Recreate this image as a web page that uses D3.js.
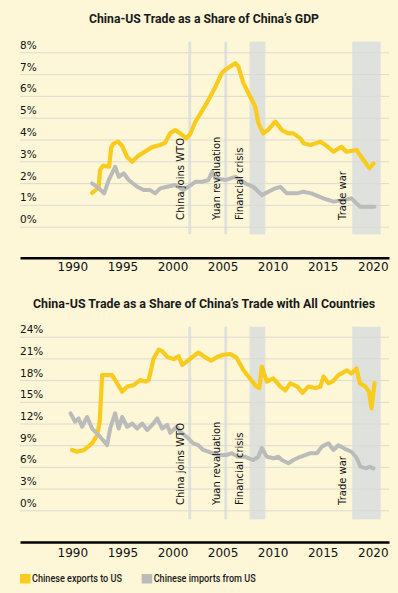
<!DOCTYPE html>
<html>
<head>
<meta charset="utf-8">
<script src="https://cdn.jsdelivr.net/npm/d3@7"></script>
<style>
  html, body { margin: 0; padding: 0; background: #fdf7d8; }
  svg { display: block; }
</style>
</head>
<body>
<svg id="chart" width="398" height="593"></svg>
<script>
// ---------- DATA ----------
const gdpExportYears = [1992.2,1992.6,1992.85,1993.0,1993.3,1993.9,1994.1,1994.3,1994.8,1995.2,1995.7,1996.2,1996.8,1997.5,1998.2,1999.0,1999.5,2000.0,2000.5,2001.0,2001.6,2002.0,2002.5,2003.5,2004.5,2005.15,2005.5,2006.0,2006.5,2006.8,2007.3,2008.0,2008.5,2008.8,2009.3,2009.8,2010.5,2011.15,2011.8,2012.3,2013.0,2013.3,2014.0,2015.0,2015.5,2016.3,2017.1,2017.6,2018.6,2019.3,2019.9,2020.3];
const gdpExportValues = [1.55,1.7,1.8,2.6,2.8,2.75,3.6,3.8,3.9,3.7,3.2,2.98,3.25,3.45,3.65,3.75,3.85,4.3,4.43,4.28,4.05,4.25,4.8,5.55,6.4,7.05,7.2,7.35,7.5,7.35,6.6,5.95,5.5,4.75,4.28,4.45,4.82,4.43,4.28,4.28,4.05,3.83,3.75,3.9,3.75,3.44,3.67,3.44,3.52,3.06,2.68,2.9];

const gdpImportYears = [1992.2,1992.7,1993.4,1993.86,1994.5,1994.86,1995.35,1995.85,1996.7,1997.35,1998.0,1998.5,1999.0,1999.7,2000.5,2001.3,2001.8,2002.5,2003.2,2003.8,2004.2,2004.5,2005.5,2006.5,2007.5,2008.3,2009.15,2009.8,2010.5,2011.0,2011.65,2012.65,2013.3,2014.1,2015.3,2016.3,2017.3,2018.1,2018.95,2019.9,2020.4];
const gdpImportValues = [1.99,1.83,1.53,2.14,2.75,2.29,2.45,2.14,1.83,1.68,1.68,1.53,1.76,1.83,1.91,1.68,1.83,2.06,2.06,2.14,2.52,2.22,2.14,2.29,1.99,1.83,1.45,1.6,1.76,1.83,1.53,1.53,1.6,1.53,1.3,1.15,1.22,1.3,0.92,0.92,0.92];

const tradeExportYears = [1990.2,1990.7,1991.4,1992.2,1992.7,1992.96,1993.2,1993.5,1994.2,1994.7,1995.2,1995.7,1996.35,1997.0,1997.5,1997.85,1998.35,1998.85,1999.2,1999.7,2000.35,2000.85,2001.2,2001.8,2002.2,2002.8,2003.5,2004.1,2004.65,2005.3,2006.0,2006.6,2007.3,2007.95,2008.6,2008.9,2009.15,2009.65,2010.3,2011.0,2011.5,2012.0,2012.7,2013.2,2013.8,2014.5,2015.0,2015.3,2015.8,2016.3,2016.8,2017.65,2018.1,2018.6,2018.95,2019.5,2019.85,2020.1,2020.4];
const tradeExportValues = [8.34,8.1,8.34,9.26,10.4,12.25,18.7,18.7,18.7,17.56,16.4,17.1,17.3,18.0,17.8,18.0,21.0,22.2,22.0,21.2,20.9,21.3,20.1,20.7,21.2,21.8,21.15,20.7,21.15,21.5,21.6,21.15,19.4,18.25,17.1,16.9,19.85,17.8,18.25,17.1,16.6,17.55,17.1,16.25,17.1,16.9,17.1,18.5,17.55,17.9,18.7,19.35,18.9,19.6,17.55,17.1,16.4,14.1,17.55];

const tradeImportYears = [1990.05,1990.5,1990.85,1991.2,1991.7,1992.2,1992.85,1993.4,1993.7,1994.0,1994.5,1994.85,1995.2,1995.7,1996.2,1996.7,1997.2,1997.7,1998.2,1998.7,1999.2,1999.7,2000.0,2000.65,2001.0,2001.8,2002.3,2002.8,2003.3,2003.8,2004.2,2004.8,2005.65,2006.15,2006.8,2007.5,2008.3,2008.8,2009.15,2009.65,2010.3,2010.8,2011.15,2011.8,2012.3,2013.0,2014.0,2014.65,2015.15,2015.8,2016.3,2016.8,2017.45,2018.1,2018.6,2019.0,2019.6,2019.9,2020.3];
const tradeImportValues = [13.4,12.25,12.7,11.55,12.9,11.3,10.4,9.5,9.0,11.3,13.4,11.3,12.9,11.55,12.0,11.3,12.0,11.1,11.8,12.7,11.3,11.8,10.7,11.55,10.9,9.95,9.26,9.0,8.34,8.1,7.9,7.65,7.65,7.9,7.4,7.4,6.95,7.4,8.6,7.4,7.2,7.4,6.95,6.5,6.95,7.4,7.9,7.9,8.8,9.26,8.34,9.0,8.5,8.1,7.3,6.03,5.8,6.03,5.8];

const yearTicks = [1990, 1995, 2000, 2005, 2010, 2015, 2020];
const gdpTicks = [0, 1, 2, 3, 4, 5, 6, 7, 8];
const tradeTicks = [0, 3, 6, 9, 12, 15, 18, 21, 24];

const eventLines = [ {year: 2001.95, label: "China joins WTO"}, {year: 2005.55, label: "Yuan revaluation"} ];
const eventShades = [ {start: 2007.92, end: 2009.5, label: "Financial crisis"}, {start: 2018.18, end: 2021.02, label: "Trade war"} ];

const chartTitles = ["China-US Trade as a Share of China\u2019s GDP", "China-US Trade as a Share of China\u2019s Trade with All Countries"];
const seriesNames = ["Chinese exports to US", "Chinese imports from US"];

// ---------- STYLE ----------
const YELLOW = "#f9cb1c", GREY = "#bbbcba", SHADE = "#dfe1dd", GRID = "#dbdad0";
const svg = d3.select("#chart");

const x = d3.scaleLinear().domain([1985, 2021.85]).range([20, 389]);

function panel(cfg) {
  const g = svg.append("g");
  const y = d3.scaleLinear().domain([0, cfg.max]).range([cfg.y0, cfg.yTop]);

  // title
  g.append("text").attr("x", 204).attr("y", cfg.titleY)
    .attr("text-anchor", "middle").attr("dominant-baseline", "central")
    .attr("font-family", "Roboto, 'Noto Sans', sans-serif").attr("font-weight", 700)
    .attr("font-size", 12.5).attr("fill", "#1a1a1a")
    .attr("textLength", cfg.titleLen).attr("lengthAdjust", "spacingAndGlyphs")
    .text(cfg.title);

  // shaded periods
  g.selectAll("rect.shade").data(eventShades).join("rect").attr("class", "shade")
    .attr("x", d => x(d.start)).attr("width", d => x(d.end) - x(d.start))
    .attr("y", cfg.shadeTop).attr("height", cfg.shadeBot - cfg.shadeTop)
    .attr("fill", SHADE);
  // event lines
  g.selectAll("rect.ev").data(eventLines).join("rect").attr("class", "ev")
    .attr("x", d => x(d.year) - 1.4).attr("width", 2.8)
    .attr("y", cfg.shadeTop).attr("height", cfg.shadeBot - cfg.shadeTop)
    .attr("fill", SHADE);

  // grid + y labels
  const yAxis = d3.axisRight(y).tickValues(cfg.ticks).tickSize(369).tickFormat(d => d + "%");
  const ya = g.append("g").attr("transform", "translate(20,0)").call(yAxis);
  ya.select(".domain").remove();
  ya.selectAll(".tick line").attr("stroke", GRID).attr("stroke-width", 1);
  ya.selectAll(".tick text").attr("x", 0).attr("dy", null).attr("y", -8)
    .attr("dominant-baseline", "central").attr("text-anchor", "start")
    .attr("font-family", "'DejaVu Sans', sans-serif").attr("font-size", 10.5)
    .attr("fill", "#111");

  // lines
  const line = d3.line().x(d => x(d[0])).y(d => y(d[1]));
  g.append("path").datum(d3.zip(cfg.exYears, cfg.exValues))
    .attr("d", line).attr("fill", "none").attr("stroke", YELLOW)
    .attr("stroke-width", 4.2).attr("stroke-linejoin", "round").attr("stroke-linecap", "round");
  g.append("path").datum(d3.zip(cfg.imYears, cfg.imValues))
    .attr("d", line).attr("fill", "none").attr("stroke", GREY)
    .attr("stroke-width", 4).attr("stroke-linejoin", "round").attr("stroke-linecap", "round");

  // annotations (on top of lines)
  const ann = [
    ...eventLines.map(d => ({pos: x(d.year), label: d.label})),
    ...eventShades.map(d => ({pos: x(d.start) - 0.5, label: d.label}))
  ];
  g.selectAll("text.ann").data(ann).join("text").attr("class", "ann")
    .attr("transform", d => `translate(${d.pos - 6},${cfg.annBottom}) rotate(-90)`)
    .attr("font-family", "'DejaVu Sans', sans-serif").attr("font-size", 10)
    .attr("fill", "#111").attr("text-anchor", "start")
    .text(d => d.label);

  // x axis
  const xAxis = d3.axisBottom(x).tickValues(yearTicks).tickSize(0).tickSizeOuter(0).tickFormat(d3.format("d"));
  const xa = g.append("g").attr("transform", `translate(0,${cfg.axisY})`).call(xAxis);
  xa.select(".domain").attr("stroke", "#000").attr("stroke-width", 2.4);
  xa.selectAll(".tick text").attr("dx", 2.3).attr("y", 0).attr("dy", null)
    .attr("transform", `translate(0,${cfg.labelY - cfg.axisY})`)
    .attr("dominant-baseline", "central")
    .attr("font-family", "'DejaVu Sans', sans-serif").attr("font-size", 12)
    .attr("fill", "#111");
}

panel({
  title: chartTitles[0], titleY: 18, titleLen: 230, max: 8, ticks: gdpTicks,
  y0: 226.7, yTop: 52.3, shadeTop: 41.7, shadeBot: 234.3, annBottom: 220,
  axisY: 257.7, labelY: 267.3,
  exYears: gdpExportYears, exValues: gdpExportValues,
  imYears: gdpImportYears, imValues: gdpImportValues
});
panel({
  title: chartTitles[1], titleY: 303.3, titleLen: 342, max: 24, ticks: tradeTicks,
  y0: 510.3, yTop: 336.7, shadeTop: 326.7, shadeBot: 519.3, annBottom: 505,
  axisY: 542, labelY: 553.3,
  exYears: tradeExportYears, exValues: tradeExportValues,
  imYears: tradeImportYears, imValues: tradeImportValues
});

// legend
const legend = svg.append("g");
const legendItems = [
  {name: seriesNames[0], color: YELLOW, x: 20, len: 90},
  {name: seriesNames[1], color: GREY, x: 141.7, len: 102}
];
legendItems.forEach(it => {
  legend.append("rect").attr("x", it.x).attr("y", 574).attr("width", 10.5).attr("height", 9.5).attr("fill", it.color);
  legend.append("text").attr("x", it.x + 12).attr("y", 578.8)
    .attr("dominant-baseline", "central")
    .attr("font-family", "Roboto, 'Noto Sans', sans-serif").attr("font-weight", 500).attr("font-size", 10)
    .attr("fill", "#1a1a1a")
    .attr("textLength", it.len).attr("lengthAdjust", "spacingAndGlyphs")
    .text(it.name);
});
</script>
</body>
</html>
